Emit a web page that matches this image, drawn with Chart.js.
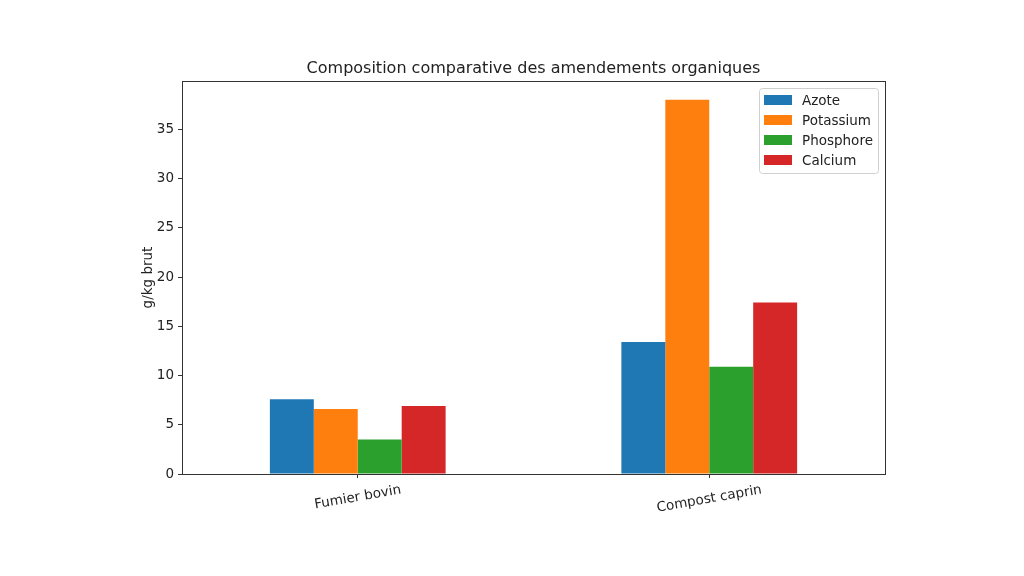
<!DOCTYPE html>
<html>
<head>
<meta charset="utf-8">
<script src="https://cdn.jsdelivr.net/npm/chart.js@4/dist/chart.umd.min.js"></script>
<style>
  html, body { margin: 0; padding: 0; background: #fff; }
  #wrap { width: 1024px; height: 576px; position: relative; }
</style>
</head>
<body>
<div id="wrap"><canvas id="c" width="1024" height="576"></canvas></div>
<script>
const categories = ["Fumier bovin", "Compost caprin"];
const seriesNames = ["Azote", "Potassium", "Phosphore", "Calcium"];
const azote = [7.6, 13.4];
const potassium = [6.6, 38.0];
const phosphore = [3.5, 10.9];
const calcium = [6.9, 17.4];
const colors = ["#1f77b4", "#ff7f0e", "#2ca02c", "#d62728"];
const yTicks = [0, 5, 10, 15, 20, 25, 30, 35];
const titleText = "Composition comparative des amendements organiques";
const yTitle = "g/kg brut";
const yMax = 39.9;

const FONT = "'DejaVu Sans', sans-serif";
const values = [azote, potassium, phosphore, calcium];

const overlay = {
  id: "overlay",
  afterDraw(chart) {
    const ctx = chart.ctx;
    const a = chart.chartArea;
    const xs = chart.scales.x;
    ctx.save();
    // frame
    ctx.strokeStyle = "#333";
    ctx.lineWidth = 1;
    ctx.strokeRect(Math.round(a.left) + 0.5, Math.round(a.top) + 0.5, Math.round(a.right - a.left), Math.round(a.bottom - a.top));
    // title
    ctx.fillStyle = "#222";
    ctx.font = "16px " + FONT;
    ctx.textAlign = "center";
    ctx.textBaseline = "alphabetic";
    ctx.fillText(titleText, (a.left + a.right) / 2, a.top - 8);
    // y axis title
    ctx.save();
    ctx.font = "13.5px " + FONT;
    ctx.translate(148, (a.top + a.bottom) / 2);
    ctx.rotate(-Math.PI / 2);
    ctx.textAlign = "center";
    ctx.textBaseline = "middle";
    ctx.fillText(yTitle, 0, 0);
    ctx.restore();
    // x tick labels, rotated around their center
    ctx.font = "13.5px " + FONT;
    const ang = 10 * Math.PI / 180;
    categories.forEach((lab, i) => {
      const x = xs.getPixelForTick(i);
      const w = ctx.measureText(lab).width;
      const h = 16;
      const bh = w * Math.sin(ang) + h * Math.cos(ang);
      const cy = a.bottom + 8 + bh / 2;
      ctx.save();
      ctx.translate(x, cy);
      ctx.rotate(-ang);
      ctx.textAlign = "center";
      ctx.textBaseline = "middle";
      ctx.fillText(lab, 0, 0);
      ctx.restore();
    });
    // legend
    const lx = 759, ly = 88, lw = 119, lh = 85;
    ctx.fillStyle = "rgba(255,255,255,0.8)";
    ctx.strokeStyle = "#d0d0d0";
    ctx.lineWidth = 1;
    ctx.beginPath();
    ctx.roundRect(lx + 0.5, ly + 0.5, lw, lh, 3);
    ctx.fill();
    ctx.stroke();
    ctx.textAlign = "left";
    ctx.textBaseline = "middle";
    ctx.font = "13.5px " + FONT;
    chart.data.datasets.forEach((ds, i) => {
      const cy = 100 + i * 20;
      ctx.fillStyle = ds.backgroundColor;
      ctx.fillRect(764, cy - 5, 28, 10);
      ctx.fillStyle = "#222";
      ctx.fillText(ds.label, 802, cy + 1);
    });
    ctx.restore();
  }
};

new Chart(document.getElementById("c"), {
  type: "bar",
  data: {
    labels: categories,
    datasets: seriesNames.map((n, i) => ({
      label: n,
      data: values[i],
      backgroundColor: colors[i],
      borderWidth: 0,
      categoryPercentage: 0.5,
      barPercentage: 1.0
    }))
  },
  options: {
    responsive: false,
    animation: false,
    devicePixelRatio: 1,
    layout: { padding: { left: 0, right: 139, top: 81, bottom: 0 } },
    plugins: {
      legend: { display: false },
      title: { display: false },
      tooltip: { enabled: false }
    },
    scales: {
      x: {
        afterFit: s => { s.height = 102; },
        grid: { display: true, offset: false, drawOnChartArea: false, drawTicks: true, tickLength: 4, color: "#333" },
        border: { display: true, color: "#333" },
        ticks: { display: false }
      },
      y: {
        min: 0,
        max: yMax,
        afterFit: s => { s.width = 182; },
        afterBuildTicks: s => { s.ticks = yTicks.map(v => ({ value: v })); },
        grid: { display: true, drawOnChartArea: false, drawTicks: true, tickLength: 4, color: "#333" },
        border: { display: true, color: "#333" },
        ticks: { color: "#222", font: { family: FONT, size: 13.5 }, padding: 4 }
      }
    }
  },
  plugins: [overlay]
});
</script>
</body>
</html>
